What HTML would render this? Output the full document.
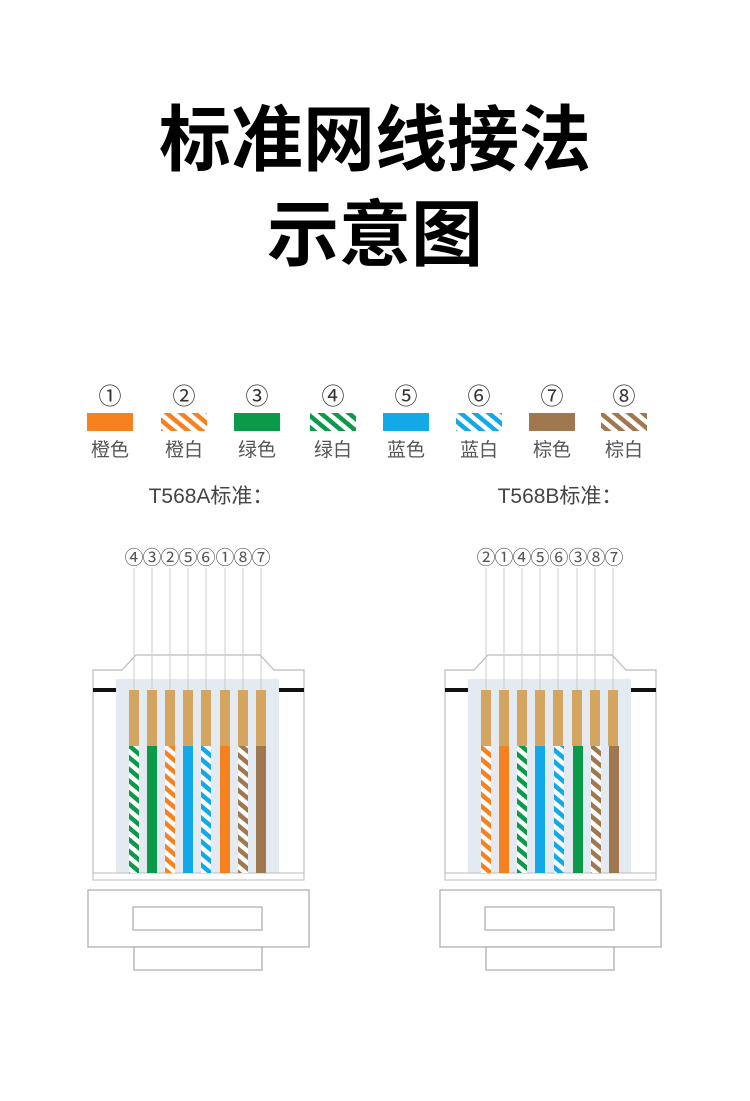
<!DOCTYPE html>
<html><head><meta charset="utf-8"><style>
html,body{margin:0;padding:0;background:#fff;}
body{width:750px;height:1096px;overflow:hidden;}
</style></head><body>
<svg width="750" height="1096" viewBox="0 0 750 1096" xmlns="http://www.w3.org/2000/svg">
<defs>
<pattern id="so" width="9" height="9" patternUnits="userSpaceOnUse" patternTransform="rotate(40)"><rect width="9" height="9" fill="#fff"/><rect width="9" height="4.5" fill="#f5821f"/></pattern>
<pattern id="sg" width="9" height="9" patternUnits="userSpaceOnUse" patternTransform="rotate(40)"><rect width="9" height="9" fill="#fff"/><rect width="9" height="4.5" fill="#0a9a4a"/></pattern>
<pattern id="sb" width="9" height="9" patternUnits="userSpaceOnUse" patternTransform="rotate(40)"><rect width="9" height="9" fill="#fff"/><rect width="9" height="4.5" fill="#12a9e6"/></pattern>
<pattern id="sr" width="9" height="9" patternUnits="userSpaceOnUse" patternTransform="rotate(40)"><rect width="9" height="9" fill="#fff"/><rect width="9" height="4.5" fill="#a07850"/></pattern>
<g id="conn">
 <path d="M93,874 V670 H122 L136,655 H260 L274,670 H304 V874" fill="#fff" stroke="#bbb" stroke-width="1.2"/>
 <rect x="116" y="679" width="163" height="195" fill="#e3eaf1"/>
 <rect x="93" y="688" width="23" height="4" fill="#111"/>
 <rect x="279" y="688" width="25" height="4" fill="#111"/>
 <rect x="93" y="873" width="211" height="7" fill="#fff" stroke="#bbb" stroke-width="1"/>
 <rect x="88" y="890" width="221" height="57" fill="#fff" stroke="#aaa" stroke-width="1.2"/>
 <rect x="133" y="907" width="129" height="23" fill="#fff" stroke="#aaa" stroke-width="1.2"/>
 <rect x="134" y="947" width="128" height="23" fill="#fff" stroke="#aaa" stroke-width="1.2"/>
 <g stroke="#ccc" stroke-width="1">
  <line x1="134" y1="568" x2="134" y2="690"/><line x1="152" y1="568" x2="152" y2="690"/>
  <line x1="170" y1="568" x2="170" y2="690"/><line x1="188" y1="568" x2="188" y2="690"/>
  <line x1="206" y1="568" x2="206" y2="690"/><line x1="225" y1="568" x2="225" y2="690"/>
  <line x1="243" y1="568" x2="243" y2="690"/><line x1="261" y1="568" x2="261" y2="690"/>
 </g>
 <g fill="#d4a560">
  <rect x="129" y="690" width="10" height="56"/><rect x="147" y="690" width="10" height="56"/>
  <rect x="165" y="690" width="10" height="56"/><rect x="183" y="690" width="10" height="56"/>
  <rect x="201" y="690" width="10" height="56"/><rect x="220" y="690" width="10" height="56"/>
  <rect x="238" y="690" width="10" height="56"/><rect x="256" y="690" width="10" height="56"/>
 </g>
</g>
</defs>
<g font-family="Liberation Sans, Noto Sans CJK SC, sans-serif" text-anchor="middle">
<text x="375" y="165" font-size="72" font-weight="bold" fill="#000">标准网线接法</text>
<text x="375" y="260" font-size="72" font-weight="bold" fill="#000">示意图</text>
<g font-size="23" fill="#333">
<text x="110" y="404">①</text><text x="184" y="404">②</text><text x="257" y="404">③</text><text x="333" y="404">④</text>
<text x="406" y="404">⑤</text><text x="479" y="404">⑥</text><text x="552" y="404">⑦</text><text x="624" y="404">⑧</text>
</g>
<rect x="87" y="413" width="46" height="18" fill="#f5821f"/>
<rect x="161" y="413" width="46" height="18" fill="url(#so)"/>
<rect x="234" y="413" width="46" height="18" fill="#0a9a4a"/>
<rect x="310" y="413" width="46" height="18" fill="url(#sg)"/>
<rect x="383" y="413" width="46" height="18" fill="#12a9e6"/>
<rect x="456" y="413" width="46" height="18" fill="url(#sb)"/>
<rect x="529" y="413" width="46" height="18" fill="#a07850"/>
<rect x="601" y="413" width="46" height="18" fill="url(#sr)"/>
<g font-size="19" fill="#555">
<text x="110" y="456">橙色</text><text x="184" y="456">橙白</text><text x="257" y="456">绿色</text><text x="333" y="456">绿白</text>
<text x="406" y="456">蓝色</text><text x="479" y="456">蓝白</text><text x="552" y="456">棕色</text><text x="624" y="456">棕白</text>
</g>
<text x="211" y="503" font-size="21" fill="#444">T568A标准：</text>
<text x="560" y="503" font-size="21" fill="#444">T568B标准：</text>
</g>
<use href="#conn"/>
<use href="#conn" transform="translate(352,0)"/>
<g font-family="Liberation Sans, Noto Sans CJK SC, sans-serif" font-size="19" fill="#555" text-anchor="middle">
<text x="134" y="564">④</text><text x="152" y="564">③</text><text x="170" y="564">②</text><text x="188" y="564">⑤</text>
<text x="206" y="564">⑥</text><text x="225" y="564">①</text><text x="243" y="564">⑧</text><text x="261" y="564">⑦</text>
<text x="486" y="564">②</text><text x="504" y="564">①</text><text x="522" y="564">④</text><text x="540" y="564">⑤</text>
<text x="559" y="564">⑥</text><text x="578" y="564">③</text><text x="596" y="564">⑧</text><text x="614" y="564">⑦</text>
</g>
<g>
<rect x="129" y="746" width="10" height="127" fill="url(#sg)"/>
<rect x="147" y="746" width="10" height="127" fill="#0a9a4a"/>
<rect x="165" y="746" width="10" height="127" fill="url(#so)"/>
<rect x="183" y="746" width="10" height="127" fill="#12a9e6"/>
<rect x="201" y="746" width="10" height="127" fill="url(#sb)"/>
<rect x="220" y="746" width="10" height="127" fill="#f5821f"/>
<rect x="238" y="746" width="10" height="127" fill="url(#sr)"/>
<rect x="256" y="746" width="10" height="127" fill="#a07850"/>
<rect x="481" y="746" width="10" height="127" fill="url(#so)"/>
<rect x="499" y="746" width="10" height="127" fill="#f5821f"/>
<rect x="517" y="746" width="10" height="127" fill="url(#sg)"/>
<rect x="535" y="746" width="10" height="127" fill="#12a9e6"/>
<rect x="554" y="746" width="10" height="127" fill="url(#sb)"/>
<rect x="573" y="746" width="10" height="127" fill="#0a9a4a"/>
<rect x="591" y="746" width="10" height="127" fill="url(#sr)"/>
<rect x="609" y="746" width="10" height="127" fill="#a07850"/>
</g>
</svg>
</body></html>
